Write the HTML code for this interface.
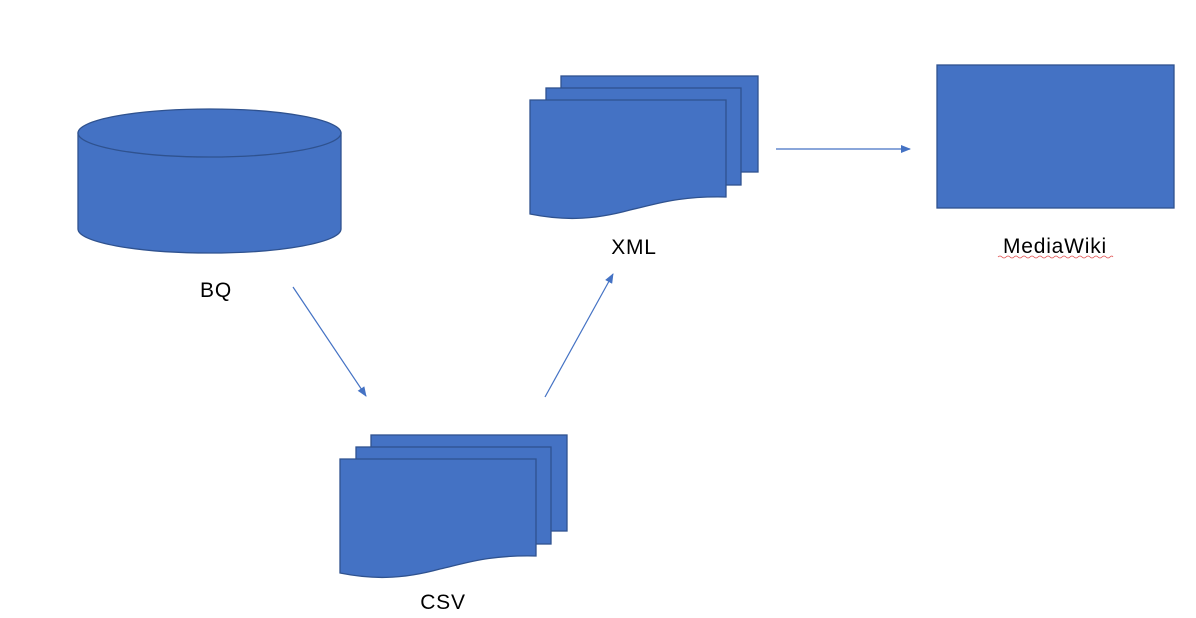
<!DOCTYPE html>
<html><head><style>
html,body{margin:0;padding:0;background:#fff;}
svg{display:block}
text{font-family:"Liberation Sans",sans-serif;font-size:21px;fill:#000;letter-spacing:0.8px}
</style></head><body>
<svg width="1196" height="618" viewBox="0 0 1196 618" xmlns="http://www.w3.org/2000/svg">
<defs>
<marker id="ah" markerWidth="10" markerHeight="8" refX="9" refY="4" orient="auto" markerUnits="userSpaceOnUse">
<path d="M0,0 L10,4 L0,8 Z" fill="#4472C4"/>
</marker>
</defs>
<g fill="#4472C4" stroke="#2F528F" stroke-width="1.3">
<!-- cylinder -->
<path d="M78,133 L78,229 A131.5,24 0 0 0 341,229 L341,133 Z"/>
<ellipse cx="209.5" cy="133" rx="131.5" ry="24"/>
<!-- MediaWiki rect -->
<rect x="937" y="65" width="237" height="143"/>
<!-- XML docs -->
<rect x="561" y="76" width="197" height="96"/>
<rect x="546" y="88" width="195" height="97"/>
<path d="M530,100 L726,100 L726,197 C680,196 660,203 630,210 C590,221 560,220 530,214 Z"/>
<!-- CSV docs -->
<rect x="371" y="435" width="196" height="96"/>
<rect x="356" y="447" width="195" height="97"/>
<path d="M340,459 L536,459 L536,556 C490,555 470,562 440,569 C400,580 370,579 340,573 Z"/>
</g>
<g stroke="#4472C4" stroke-width="1.2" fill="none">
<line x1="293" y1="287" x2="366" y2="396" marker-end="url(#ah)"/>
<line x1="545" y1="397" x2="613" y2="274" marker-end="url(#ah)"/>
<line x1="776" y1="149" x2="910" y2="149" marker-end="url(#ah)"/>
</g>
<text x="216" y="297" text-anchor="middle">BQ</text>
<text x="634" y="254" text-anchor="middle">XML</text>
<text x="1055" y="253" text-anchor="middle">MediaWiki</text>
<path d="M998,257 q2,-2 4,0 t4,0 t4,0 t4,0 t4,0 t4,0 t4,0 t4,0 t4,0 t4,0 t4,0 t4,0 t4,0 t4,0 t4,0 t4,0 t4,0 t4,0 t4,0 t4,0 t4,0 t4,0 t4,0 t4,0 t4,0 t4,0 t4,0 t4,0 t3,0" stroke="#e05050" stroke-width="0.8" fill="none"/>
<text x="443" y="609" text-anchor="middle">CSV</text>
</svg>
</body></html>
